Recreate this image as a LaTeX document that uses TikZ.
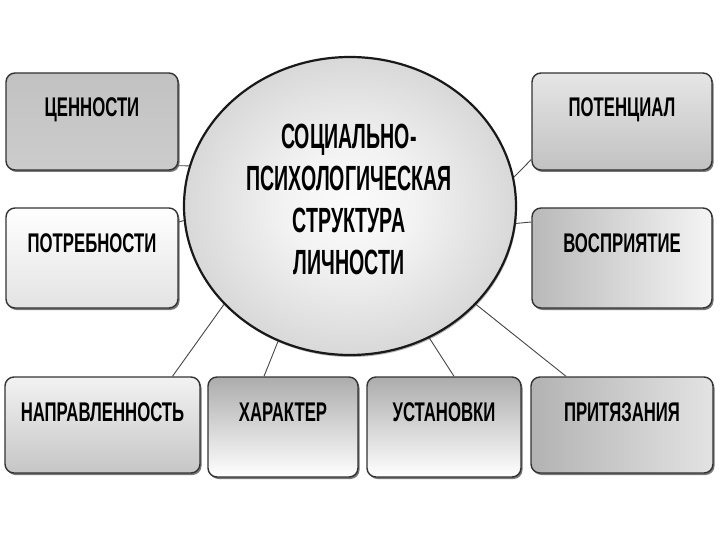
\documentclass[tikz,border=0pt]{standalone}
\usepackage{fontspec}
\setmainfont{Liberation Sans}[FakeStretch=0.62]
\newfontfamily\titlefont{Liberation Sans}[FakeStretch=0.56]
\usetikzlibrary{shapes.geometric,shadows}
\pgfdeclareradialshading{ballgray}{\pgfpointorigin}{color(0bp)=(gray!3); color(10bp)=(gray!10); color(32bp)=(gray!40); color(50bp)=(gray!65)}
\begin{document}
\begin{tikzpicture}[x=1pt,y=-1pt,
  box/.style={draw=black!80, line width=1.4pt, rounded corners=9pt, inner sep=0pt,
    font=\fontsize{27}{32}\selectfont\bfseries, text height=44pt,
    drop shadow={shadow xshift=1.5pt,shadow yshift=-2pt,fill=black!75,opacity=0.7}},
  link/.style={draw=gray!55!black, line width=0.9pt}]
\fill[white] (0,0) rectangle (720,540);
\useasboundingbox (0,0) rectangle (720,540);
% central ellipse
\node[ellipse, minimum width=332pt, minimum height=298pt, inner sep=0pt, draw=black!90,
  line width=2.2pt, shade, shading=ballgray,
  drop shadow={shadow xshift=1pt,shadow yshift=-2pt,fill=black!60,opacity=0.5}] (circ) at (350,206) {};
\node[font=\titlefont\fontsize{35}{42}\selectfont\bfseries, align=center] (title) at (349,199)
  {СОЦИАЛЬНО-\\ПСИХОЛОГИЧЕСКАЯ\\СТРУКТУРА\\ЛИЧНОСТИ};
% boxes
\node[box, minimum width=172pt, text depth=53pt, top color=gray!48, middle color=gray!22, bottom color=gray!40] (b1) at (92,121.5) {ЦЕННОСТИ};
\node[box, minimum width=172pt, text depth=56pt, top color=white, bottom color=gray!22] (b2) at (92,258) {ПОТРЕБНОСТИ};
\node[box, minimum width=180pt, text depth=53pt, top color=gray!20, bottom color=gray!48] (b3) at (622,121.5) {ПОТЕНЦИАЛ};
\node[box, minimum width=180pt, text depth=56pt, left color=gray!55, right color=gray!8] (b4) at (622,258) {ВОСПРИЯТИЕ};
\node[box, minimum width=195pt, text depth=52pt, top color=gray!10, bottom color=gray!45] (b5) at (102.5,425) {НАПРАВЛЕННОСТЬ};
\node[box, minimum width=150pt, text depth=56pt, top color=gray!65, bottom color=white] (b6) at (283,427) {ХАРАКТЕР};
\node[box, minimum width=154pt, text depth=56pt, top color=gray!65, bottom color=white] (b7) at (444,427) {УСТАНОВКИ};
\node[box, minimum width=182pt, text depth=52pt, left color=gray!60, right color=gray!22] (b8) at (622,425) {ПРИТЯЗАНИЯ};
% connectors
\draw[link] ([yshift=5pt]b1.south east) -- (circ.166.6);
\draw[link] ([yshift=36pt]b2.east) -- (circ.185.6);
\draw[link] ([yshift=-38pt]b3.west) -- (circ.10.8);
\draw[link] ([yshift=36pt]b4.west) -- (circ.354.5);
\draw[link] ([xshift=70pt]b5.north) -- (circ.218.1);
\draw[link] ([xshift=-19pt]b6.north) -- (circ.242);
\draw[link] ([xshift=10pt]b7.north) -- (circ.301.8);
\draw[link] ([xshift=-56pt]b8.north) -- (circ.322.5);
\end{tikzpicture}
\end{document}
